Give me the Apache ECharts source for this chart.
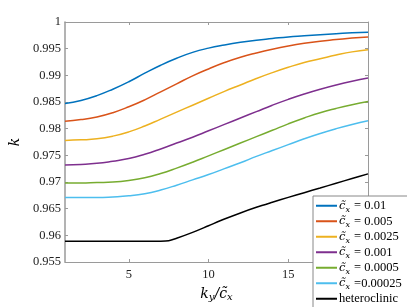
<!DOCTYPE html>
<html>
<head>
<meta charset="utf-8">
<script src="https://cdn.jsdelivr.net/npm/echarts@6/dist/echarts.min.js"></script>
<style>html,body{margin:0;padding:0;background:#fff}#c{width:407px;height:307px}</style>
</head>
<body>
<div id="c"></div>
<script>
const xs = [1,2,3,4,5,6,7,8,9,10,11,12,13,14,15,16,17,18,19,20];
const c001    = [0.9847,0.9853,0.9862,0.9874,0.9888,0.9904,0.9919,0.9932,0.9943,0.9951,0.9957,0.9962,0.9966,0.9969,0.9972,0.9974,0.9976,0.9978,0.9980,0.9981];
const c0005   = [0.9814,0.9817,0.9822,0.9830,0.9841,0.9854,0.9869,0.9884,0.9899,0.9912,0.9924,0.9934,0.9942,0.9949,0.9955,0.9960,0.9964,0.9967,0.9970,0.9972];
const c00025  = [0.9778,0.9779,0.9781,0.9786,0.9794,0.9805,0.9818,0.9831,0.9844,0.9857,0.9870,0.9882,0.9894,0.9905,0.9915,0.9924,0.9931,0.9938,0.9944,0.9948];
const c0001   = [0.9732,0.9733,0.9735,0.9739,0.9744,0.9752,0.9762,0.9773,0.9784,0.9796,0.9808,0.9820,0.9832,0.9844,0.9855,0.9865,0.9874,0.9882,0.9889,0.9895];
const c00005  = [0.9698,0.9698,0.9699,0.9700,0.9703,0.9708,0.9716,0.9726,0.9737,0.9749,0.9761,0.9773,0.9785,0.9797,0.9809,0.9820,0.9830,0.9838,0.9845,0.9851];
const c000025 = [0.9671,0.9671,0.9671,0.9672,0.9674,0.9678,0.9685,0.9694,0.9704,0.9714,0.9725,0.9736,0.9748,0.9759,0.9770,0.9781,0.9791,0.9800,0.9808,0.9815];
const hetX = [1,3,5,7,7.5,8,9,10,11,12,13,14,15,16,17,18,19,20];
const hetY = [0.9589,0.9589,0.9589,0.9589,0.95898,0.95945,0.96055,0.96180,0.96305,0.96420,0.96525,0.96620,0.96712,0.96800,0.96888,0.96977,0.97065,0.97152];
const cxLabels = ['0.01','0.005','0.0025','0.001','0.0005','0.00025'];
const cxSeps = [' = ',' = ',' = ',' = ',' = ',' ='];
const xTicks = [5,10,15];
const yMin = 0.955, yMax = 1, yStep = 0.005;

const colors = ['#0072BD','#D95319','#EDB120','#7E2F8E','#77AC30','#4DBEEE','#000000'];
const seriesVals = [c001,c0005,c00025,c0001,c00005,c000025];
const serif = 'Liberation Serif';
const names = cxLabels.map((l,i)=>'cx'+i);
const series = seriesVals.map((vals,i)=>({
  name: names[i], type:'line', symbol:'none', smooth:0.5,
  data: xs.map((x,j)=>[x, vals[j]]),
  lineStyle:{width:1.5,color:colors[i]}, itemStyle:{color:colors[i]}
}));
series.push({
  name:'heteroclinic', type:'line', symbol:'none', smooth:0.3,
  data: hetX.map((x,j)=>[x,hetY[j]]),
  lineStyle:{width:1.5,color:'#000'}, itemStyle:{color:'#000'}
});
const axCol = '#9a9a9a';
const chart = echarts.init(document.getElementById('c'));
chart.setOption({
  animation:false,
  grid:{left:53,right:39,top:22,bottom:39,containLabel:false},
  legend:{
    orient:'vertical', left:313, top:196, height:140, width:120, itemWidth:21, itemHeight:2, itemGap:0,
    icon:'rect', backgroundColor:'#fff', borderColor:'#888', borderWidth:1,
    padding:[2,30,2,3], borderRadius:0,
    data: names.concat(['heteroclinic']),
    formatter: function(name){
      const i = names.indexOf(name);
      if (i < 0) return '{t|heteroclinic}';
      return '{i|c\u0303}{s|x}{t|' + cxSeps[i] + cxLabels[i] + '}';
    },
    textStyle:{fontFamily:serif,fontSize:12.5,color:'#000',lineHeight:15.5,padding:[0,0,0,-3],
      rich:{
        t:{fontFamily:serif,fontSize:12.5,lineHeight:15.5},
        i:{fontFamily:'DejaVu Serif',fontStyle:'italic',fontSize:11.5,lineHeight:15.5},
        s:{fontFamily:'DejaVu Serif',fontStyle:'italic',fontSize:8,lineHeight:15.5,verticalAlign:'bottom',padding:[5,1,0,0]}
      }}
  },
  xAxis:[{
    type:'value', min:1, max:20, position:'bottom',
    name:'{i|k}{s|y}{i|/}{i|c\u0303}{s|x}', nameLocation:'middle', nameGap:24,
    nameTextStyle:{rich:{
      i:{fontFamily:'DejaVu Serif',fontStyle:'italic',fontSize:14,color:'#000'},
      s:{fontFamily:'DejaVu Serif',fontStyle:'italic',fontSize:10,color:'#000',verticalAlign:'bottom',padding:[6,0,0,0]}
    }},
    axisLine:{show:true,onZero:false,lineStyle:{color:axCol,width:1}},
    axisTick:{show:true,inside:true,length:3,customValues:xTicks,lineStyle:{color:axCol}},
    axisLabel:{customValues:xTicks,fontFamily:serif,fontSize:12.5,color:'#222',margin:6},
    splitLine:{show:false}
  },{
    type:'value', min:1, max:20, position:'top',
    axisLine:{show:true,onZero:false,lineStyle:{color:axCol,width:1}},
    axisTick:{show:true,inside:true,length:3,customValues:xTicks,lineStyle:{color:axCol}},
    axisLabel:{show:false}, splitLine:{show:false}
  }],
  yAxis:[{
    type:'value', min:yMin, max:yMax, interval:yStep, position:'left',
    name:'k', nameLocation:'middle', nameGap:38, nameRotate:90,
    nameTextStyle:{fontFamily:'DejaVu Serif',fontStyle:'italic',fontSize:14,color:'#000'},
    axisLine:{show:true,onZero:false,lineStyle:{color:axCol,width:1.5}},
    axisTick:{show:true,inside:true,length:3,lineStyle:{color:axCol}},
    axisLabel:{fontFamily:serif,fontSize:12.5,color:'#222',margin:4,
      formatter:v=>String(+(+v).toFixed(3))},
    splitLine:{show:false}
  },{
    type:'value', min:yMin, max:yMax, interval:yStep, position:'right',
    axisLine:{show:true,onZero:false,lineStyle:{color:axCol,width:1}},
    axisTick:{show:true,inside:true,length:3,lineStyle:{color:axCol}},
    axisLabel:{show:false}, splitLine:{show:false}
  }],
  series: series
});
</script>
</body>
</html>
